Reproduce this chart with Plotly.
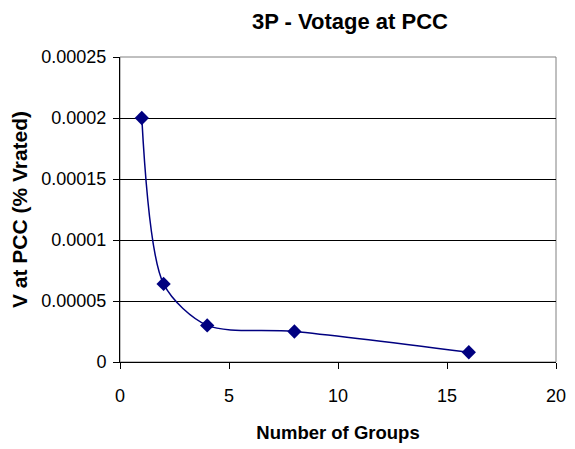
import plotly.graph_objects as go

groups = [1, 2, 4, 8, 16]
v_pcc = [0.0002, 0.000064, 0.00003, 0.000025, 0.000008]

y_tickvals = [0, 0.00005, 0.0001, 0.00015, 0.0002, 0.00025]
y_ticktext = ["0", "0.00005", "0.0001", "0.00015", "0.0002", "0.00025"]
x_tickvals = [0, 5, 10, 15, 20]

navy = "#000080"

fig = go.Figure()
fig.add_trace(go.Scatter(
    x=groups, y=v_pcc, mode="lines+markers",
    line=dict(color=navy, width=1.5, shape="spline", smoothing=0.8),
    marker=dict(symbol="diamond", size=11, color=navy),
    showlegend=False,
))

font = "Liberation Sans, Arial, sans-serif"
fig.update_layout(
    width=567, height=441,
    paper_bgcolor="white", plot_bgcolor="white",
    margin=dict(l=112, r=19, t=49, b=87, autoexpand=False),
    font=dict(family=font, size=18, color="black"),
    title=dict(text="<b>3P - Votage at PCC</b>", xref="container", x=0.603,
               xanchor="center", yref="container", y=0.988, yanchor="top",
               font=dict(size=22, family=font)),
    xaxis=dict(range=[0, 20], tickvals=x_tickvals, showgrid=False,
               showline=True, linecolor="black", linewidth=1,
               ticks="outside", ticklen=6, tickcolor="black",
               tickfont=dict(size=18), ticklabelstandoff=11,
               mirror=False, zeroline=False,
               title=dict(text="<b>Number of Groups</b>", standoff=21,
                          font=dict(size=18.5))),
    yaxis=dict(range=[0, 0.00025], tickvals=y_tickvals, ticktext=y_ticktext,
               showgrid=True, gridcolor="black", gridwidth=1,
               showline=True, linecolor="black", linewidth=1,
               ticks="outside", ticklen=6, tickcolor="black",
               tickfont=dict(size=18), ticklabelstandoff=3,
               zeroline=False,
               title=dict(text="<b>V at PCC (% Vrated)</b>", standoff=9,
                          font=dict(size=21))),
)
fig.add_shape(type="rect", xref="paper", yref="paper", x0=0, y0=0, x1=1, y1=1,
              line=dict(color="#808080", width=1), layer="below")

fig.write_html("out.html")
